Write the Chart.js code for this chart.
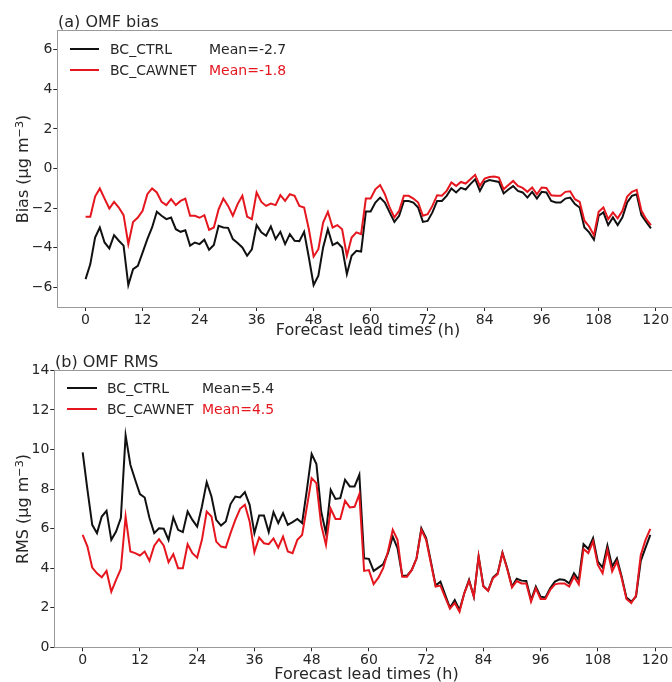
<!DOCTYPE html>
<html><head><meta charset="utf-8">
<script src="https://cdn.jsdelivr.net/npm/chart.js@4/dist/chart.umd.min.js"></script>
<style>
html,body{margin:0;padding:0;overflow:hidden;background:#fff;width:672px;height:682px;}
#wrap{position:relative;width:672px;height:682px;overflow:hidden;font-family:'DejaVu Sans',sans-serif;color:#262626;}
canvas{position:absolute;left:0;}
.t{position:absolute;white-space:nowrap;line-height:1.2;transform:translateY(-50%);}
.c{position:absolute;white-space:nowrap;line-height:1.2;transform:translate(-50%,-50%);font-size:16px;}
.r{position:absolute;white-space:nowrap;line-height:1.2;transform:translate(-50%,-50%) rotate(-90deg);font-size:16px;}
.sw{position:absolute;height:2px;}
sup{font-size:0.7em;vertical-align:0.5em;line-height:0;}
.red{color:#e5161e;}
</style></head><body>
<div id="wrap">
<canvas id="ca" width="700" height="340" style="top:0"></canvas>
<canvas id="cb" width="700" height="342" style="top:340px"></canvas>

<div class="t" style="left:58px;top:22px;font-size:16px;">(a) OMF bias</div>
<div class="sw" style="left:70px;top:48px;width:29px;background:#111;"></div>
<div class="t" style="left:110px;top:49px;font-size:14px;">BC_CTRL</div>
<div class="t" style="left:209px;top:49px;font-size:14px;">Mean=-2.7</div>
<div class="sw" style="left:70px;top:69px;width:29px;background:#e5161e;"></div>
<div class="t" style="left:110px;top:70px;font-size:14px;">BC_CAWNET</div>
<div class="t red" style="left:209px;top:70px;font-size:14px;">Mean=-1.8</div>
<div class="r" style="left:23px;top:168.5px;">Bias (µg m<sup>−3</sup>)</div>
<div class="c" style="left:368px;top:330px;">Forecast lead times (h)</div>

<div class="t" style="left:55px;top:362px;font-size:16px;">(b) OMF RMS</div>
<div class="sw" style="left:67px;top:387px;width:30px;background:#111;"></div>
<div class="t" style="left:107px;top:388px;font-size:14px;">BC_CTRL</div>
<div class="t" style="left:202px;top:388px;font-size:14px;">Mean=5.4</div>
<div class="sw" style="left:67px;top:408px;width:30px;background:#e5161e;"></div>
<div class="t" style="left:107px;top:409px;font-size:14px;">BC_CAWNET</div>
<div class="t red" style="left:202px;top:409px;font-size:14px;">Mean=4.5</div>
<div class="r" style="left:23px;top:509px;">RMS (µg m<sup>−3</sup>)</div>
<div class="c" style="left:366.5px;top:674px;">Forecast lead times (h)</div>
</div>
<script>
const leadTimes = [0,1,2,3,4,5,6,7,8,9,10,11,12,13,14,15,16,17,18,19,20,21,22,23,24,25,26,27,28,29,
30,31,32,33,34,35,36,37,38,39,40,41,42,43,44,45,46,47,48,49,50,51,52,53,54,55,56,57,58,59,
60,61,62,63,64,65,66,67,68,69,70,71,72,73,74,75,76,77,78,79,80,81,82,83,84,85,86,87,88,89,
90,91,92,93,94,95,96,97,98,99,100,101,102,103,104,105,106,107,108,109,110,111,112,113,114,115,116,117,118,119];
const xTicks = [0,12,24,36,48,60,72,84,96,108,120];
const biasTicks = [-6,-4,-2,0,2,4,6];
const rmsTicks = [0,2,4,6,8,10,12,14];

const biasCtrl = [-5.59,-4.83,-3.49,-2.98,-3.74,-4.04,-3.37,-3.65,-3.9,-5.89,
-5.09,-4.92,-4.25,-3.57,-2.98,-2.19,-2.39,-2.56,-2.48,-3.07,
-3.2,-3.12,-3.9,-3.74,-3.82,-3.6,-4.11,-3.87,-2.9,-2.98,
-3.0,-3.57,-3.77,-3.99,-4.41,-4.08,-2.86,-3.23,-3.4,-2.93,
-3.57,-3.2,-3.82,-3.32,-3.65,-3.67,-3.2,-4.5,-5.89,-5.42,
-3.99,-3.07,-3.87,-3.74,-3.99,-5.34,-4.41,-4.16,-4.2,-2.17,
-2.17,-1.72,-1.47,-1.72,-2.22,-2.7,-2.39,-1.64,-1.64,-1.72,
-1.97,-2.7,-2.65,-2.22,-1.64,-1.64,-1.38,-1.01,-1.21,-0.98,
-1.06,-0.79,-0.54,-1.13,-0.68,-0.58,-0.63,-0.68,-1.26,-1.06,
-0.89,-1.13,-1.21,-1.47,-1.18,-1.52,-1.18,-1.21,-1.64,-1.72,
-1.72,-1.52,-1.47,-1.8,-1.97,-2.98,-3.23,-3.6,-2.39,-2.22,
-2.86,-2.47,-2.86,-2.47,-1.72,-1.38,-1.3,-2.36,-2.7,-3.03];
const biasCawnet = [-2.44,-2.44,-1.42,-1.01,-1.52,-2.02,-1.69,-1.97,-2.36,-3.82,
-2.7,-2.48,-2.14,-1.3,-1.01,-1.21,-1.69,-1.85,-1.55,-1.85,
-1.64,-1.52,-2.39,-2.39,-2.49,-2.36,-3.1,-2.98,-2.06,-1.52,
-1.89,-2.39,-1.8,-1.38,-2.43,-2.56,-1.21,-1.69,-1.89,-1.77,
-1.85,-1.35,-1.64,-1.3,-1.38,-1.89,-1.97,-3.07,-4.45,-4.08,
-2.73,-2.19,-2.98,-2.86,-3.07,-4.41,-3.49,-3.23,-3.32,-1.52,
-1.52,-1.05,-0.84,-1.3,-1.97,-2.47,-2.14,-1.38,-1.38,-1.52,
-1.72,-2.39,-2.31,-1.89,-1.35,-1.38,-1.13,-0.71,-0.88,-0.68,
-0.76,-0.54,-0.32,-0.88,-0.51,-0.43,-0.41,-0.46,-1.05,-0.84,
-0.63,-0.88,-0.98,-1.18,-0.96,-1.3,-0.96,-0.98,-1.35,-1.38,
-1.38,-1.18,-1.15,-1.55,-1.69,-2.64,-2.93,-3.37,-2.19,-1.97,
-2.56,-2.22,-2.52,-2.14,-1.42,-1.18,-1.08,-2.14,-2.56,-2.86];
const rmsCtrl = [9.85,7.96,6.19,5.77,6.61,6.9,5.43,5.85,6.53,10.71,
9.23,8.47,7.74,7.57,6.53,5.77,6.02,5.99,5.43,6.56,
5.94,5.82,6.86,6.44,6.1,7.12,8.35,7.62,6.44,6.15,
6.36,7.24,7.62,7.57,7.84,7.2,5.77,6.66,6.66,5.82,
6.83,6.28,6.78,6.19,6.33,6.49,6.28,7.96,9.77,9.26,
6.86,5.77,7.96,7.5,7.54,8.47,8.13,8.13,8.72,4.5,
4.47,3.86,4.03,4.2,4.76,5.6,5.01,3.62,3.62,3.91,
4.5,6.02,5.52,4.33,3.12,3.32,2.65,2.0,2.39,1.89,
2.73,3.41,2.56,4.59,3.1,2.86,3.52,3.74,4.79,4.0,
3.07,3.46,3.37,3.35,2.39,3.07,2.56,2.52,2.98,3.32,
3.44,3.4,3.23,3.74,3.4,5.21,4.97,5.52,4.33,4.03,
5.14,4.08,4.5,3.57,2.51,2.31,2.56,4.37,5.04,5.68];
const rmsCawnet = [5.68,5.09,4.03,3.74,3.54,3.86,2.81,3.41,3.96,6.61,
4.84,4.76,4.64,4.84,4.37,5.14,5.47,5.14,4.3,4.71,
4.0,4.0,5.21,4.76,4.53,5.43,6.86,6.61,5.34,5.09,
5.04,5.77,6.44,7.0,7.2,6.36,4.81,5.55,5.26,5.21,
5.5,5.04,5.6,4.84,4.76,5.43,5.68,7.1,8.55,8.3,
6.19,5.18,7.0,6.49,6.49,7.4,7.07,7.1,7.74,3.86,
3.9,3.19,3.52,4.0,4.84,5.94,5.43,3.57,3.57,3.91,
4.5,5.94,5.43,4.25,3.07,3.12,2.52,1.95,2.24,1.8,
2.73,3.36,2.56,4.59,3.07,2.86,3.49,3.7,4.76,3.96,
3.02,3.35,3.23,3.23,2.31,2.98,2.44,2.44,2.9,3.18,
3.23,3.23,3.07,3.57,3.18,4.97,4.76,5.35,4.16,3.74,
4.92,3.83,4.33,3.49,2.44,2.24,2.61,4.67,5.43,5.99];

const CTRL_COLOR = '#111111';
const CAWNET_COLOR = '#e5161e';
const TXT = '#262626';

const framePlugin = {
  id: 'frame',
  afterDatasetsDraw(chart) {
    const {ctx, chartArea: a} = chart;
    ctx.save();
    ctx.strokeStyle = '#9a9a9a';
    ctx.lineWidth = 1;
    ctx.strokeRect(Math.round(a.left) + 0.5, Math.round(a.top) + 0.5, Math.round(a.right - a.left), Math.round(a.bottom - a.top));
    ctx.restore();
  }
};

function fmt(v) { return v < 0 ? '\u2212' + Math.abs(v) : String(v); }

function makeChart(id, ctrl, cawnet, yMin, yMax, yTicks, area, H) {
  const pts = arr => leadTimes.map((h, i) => ({x: h, y: arr[i]}));
  const tickFont = {family: 'DejaVu Sans', size: 14};
  return new Chart(document.getElementById(id), {
    type: 'line',
    data: {datasets: [
      {label: 'BC_CTRL', data: pts(ctrl), borderColor: CTRL_COLOR, borderWidth: 2, pointRadius: 0, tension: 0, order: 1, fill: false},
      {label: 'BC_CAWNET', data: pts(cawnet), borderColor: CAWNET_COLOR, borderWidth: 2, pointRadius: 0, tension: 0, order: 0, fill: false}
    ]},
    options: {
      responsive: false, animation: false, devicePixelRatio: 1,
      layout: {padding: {left: 0, top: area.top, right: 700 - area.right, bottom: 0}},
      plugins: {legend: {display: false}, tooltip: {enabled: false}, title: {display: false}},
      scales: {
        x: {
          type: 'linear', min: -5.95, max: 124.95,
          afterBuildTicks: s => { s.ticks = xTicks.map(v => ({value: v})); },
          afterFit: s => { s.height = H - area.bottom; },
          ticks: {font: tickFont, color: TXT, padding: 1, maxRotation: 0, autoSkip: false, callback: v => String(v)},
          grid: {drawOnChartArea: false, drawTicks: true, tickLength: 4, color: TXT},
          border: {display: false}
        },
        y: {
          type: 'linear', min: yMin, max: yMax,
          afterBuildTicks: s => { s.ticks = yTicks.map(v => ({value: v})); },
          afterFit: s => { s.width = area.left; },
          ticks: {font: tickFont, color: TXT, padding: 1, autoSkip: false, callback: v => fmt(v)},
          grid: {drawOnChartArea: false, drawTicks: true, tickLength: 4, color: TXT},
          border: {display: false}
        }
      }
    },
    plugins: [framePlugin]
  });
}

makeChart('ca', biasCtrl, biasCawnet, -7, 7, biasTicks, {left: 57.3, top: 30, right: 679.2, bottom: 307}, 340);
makeChart('cb', rmsCtrl, rmsCawnet, 0, 14, rmsTicks, {left: 54.3, top: 30.3, right: 678.7, bottom: 307.3}, 342);
</script>
</body></html>
